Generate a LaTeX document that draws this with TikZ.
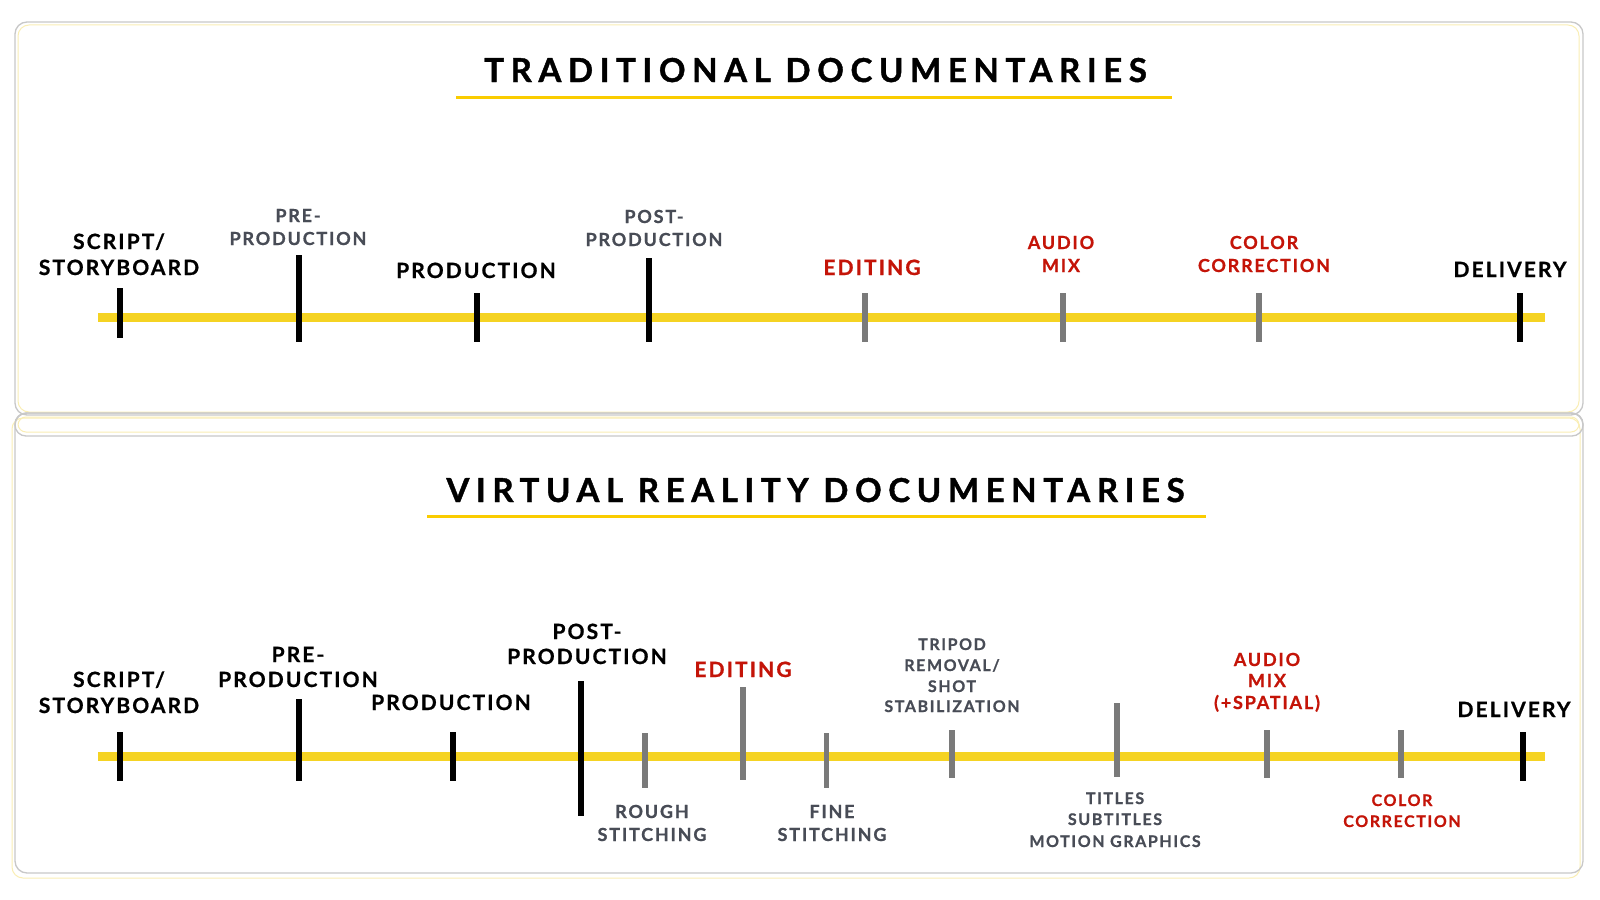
\documentclass[tikz,border=0pt]{standalone}
\usepackage{fontspec}
\setmainfont{Lato}
\newfontfamily\labfont[LetterSpace=10,BoldFeatures={FakeBold=0.8}]{Lato}
\newfontfamily\titfont[LetterSpace=20,BoldFeatures={FakeBold=1.2}]{Lato}
\definecolor{tlyellow}{RGB}{245,211,35}
\definecolor{ulyellow}{RGB}{250,204,0}
\definecolor{tkgray}{RGB}{122,122,122}
\definecolor{txgray}{RGB}{72,76,86}
\definecolor{txred}{RGB}{196,20,8}
\definecolor{frgray}{RGB}{200,200,200}
\definecolor{fryellow}{RGB}{250,238,180}
\begin{document}
\begin{tikzpicture}[x=1pt,y=-1pt,
  lbase/.style={inner sep=0pt, anchor=base},
  lblk/.style={lbase, font=\labfont\bfseries\fontsize{21}{21}\selectfont, text=black},
  lred/.style={lbase, font=\labfont\bfseries\fontsize{21}{21}\selectfont, text=txred},
  sgry/.style={lbase, font=\labfont\bfseries\fontsize{18}{18}\selectfont, text=txgray},
  sred/.style={lbase, font=\labfont\bfseries\fontsize{18}{18}\selectfont, text=txred},
  tgry/.style={lbase, font=\labfont\bfseries\fontsize{16}{16}\selectfont, text=txgray},
  tred/.style={lbase, font=\labfont\bfseries\fontsize{16}{16}\selectfont, text=txred},
  ttl/.style={lbase, font=\titfont\bfseries\fontsize{33}{33}\selectfont, text=black},
  tline/.style={tlyellow, line width=8.5pt},
  uline/.style={ulyellow, line width=3.6pt},
  tkblk/.style={black, line width=6pt},
  tkgry/.style={tkgray, line width=5.5pt},
  frame/.style={frgray, line width=1.3pt, rounded corners=12pt},
  frameY/.style={fryellow, line width=1pt, rounded corners=11pt}
]
\useasboundingbox (0,0) rectangle (1600,899);
\fill[white] (0,0) rectangle (1600,899);

% frames
\draw[frameY] (12,418) rectangle (1580,878);
\draw[frame] (15,413) rectangle (1583,873);
\draw[frame] (15,22) rectangle (1583,415);
\draw[frameY] (18,25) rectangle (1579,412);
\draw[frame, rounded corners=11pt] (15,413) rectangle (1583,436);
\draw[frameY, rounded corners=8pt] (18,417) rectangle (1579,432);

% ===== top panel =====
\node[ttl] (t1) at (815.5,82) {TRADITIONAL DOCUMENTARIES};
\draw[uline] (456,97.6) -- (1172,97.6);
\draw[tline] (98,317.5) -- (1545,317.5);

\draw[tkblk] (120,288) -- (120,338);
\draw[tkblk] (299,255) -- (299,342);
\draw[tkblk] (477,293) -- (477,342);
\draw[tkblk] (649,258) -- (649,342);
\draw[tkgry] (865,293) -- (865,342);
\draw[tkgry] (1063,293) -- (1063,342);
\draw[tkgry] (1259,293) -- (1259,342);
\draw[tkblk] (1520,293) -- (1520,342);

\node[lblk] (a1) at (119,249) {SCRIPT/};
\node[lblk] (a2) at (119,275) {STORYBOARD};
\node[sgry] (b1) at (298,222) {PRE-};
\node[sgry] (b2) at (298,245) {PRODUCTION};
\node[lblk] (c1) at (476,278) {PRODUCTION};
\node[sgry] (d1) at (654,223) {POST-};
\node[sgry] (d2) at (654,246) {PRODUCTION};
\node[lred] (e1) at (872,275) {EDITING};
\node[sred] (f1) at (1061,249) {AUDIO};
\node[sred] (f2) at (1061,272) {MIX};
\node[sred] (g1) at (1264,249) {COLOR};
\node[sred] (g2) at (1264,272) {CORRECTION};
\node[lblk] (h1) at (1510,277) {DELIVERY};

% ===== bottom panel =====
\node[ttl] (t2) at (815.5,502) {VIRTUAL REALITY DOCUMENTARIES};
\draw[uline] (427,516.3) -- (1206,516.3);
\draw[tline] (98,756.5) -- (1545,756.5);

\draw[tkblk] (120,732) -- (120,781);
\draw[tkblk] (299,699) -- (299,781);
\draw[tkblk] (452.5,732) -- (452.5,781);
\draw[tkblk] (581,681) -- (581,816);
\draw[tkgry] (645,733) -- (645,788);
\draw[tkgry] (743,687) -- (743,780);
\draw[tkgry] (826.5,733) -- (826.5,788);
\draw[tkgry] (952,730) -- (952,778);
\draw[tkgry] (1117,703) -- (1117,777);
\draw[tkgry] (1267,730) -- (1267,778);
\draw[tkgry] (1401,730) -- (1401,778);
\draw[tkblk] (1523,732) -- (1523,781);

\node[lblk] (va1) at (119,687) {SCRIPT/};
\node[lblk] (va2) at (119,713) {STORYBOARD};
\node[lblk] (vb1) at (298,662) {PRE-};
\node[lblk] (vb2) at (298,687) {PRODUCTION};
\node[lblk] (vc1) at (451,710) {PRODUCTION};
\node[lblk] (vd1) at (587,639) {POST-};
\node[lblk] (vd2) at (587,664) {PRODUCTION};
\node[lred] (ve1) at (743,677) {EDITING};
\node[sgry] (vr1) at (652,818) {ROUGH};
\node[sgry] (vr2) at (652,841) {STITCHING};
\node[sgry] (vf1) at (832,818) {FINE};
\node[sgry] (vf2) at (832,841) {STITCHING};
\node[tgry] (vt1) at (952,650) {TRIPOD};
\node[tgry] (vt2) at (952,671) {REMOVAL/};
\node[tgry] (vt3) at (952,692) {SHOT};
\node[tgry] (vt4) at (952,712) {STABILIZATION};
\node[tgry] (vs1) at (1115,804) {TITLES};
\node[tgry] (vs2) at (1115,825) {SUBTITLES};
\node[tgry] (vs3) at (1115,847) {MOTION GRAPHICS};
\node[sred] (vm1) at (1267,666) {AUDIO};
\node[sred] (vm2) at (1267,687) {MIX};
\node[sred] (vm3) at (1267,709) {(+SPATIAL)};
\node[tred] (vk1) at (1402,806) {COLOR};
\node[tred] (vk2) at (1402,827) {CORRECTION};
\node[lblk] (vh1) at (1514,717) {DELIVERY};
\end{tikzpicture}
\end{document}
